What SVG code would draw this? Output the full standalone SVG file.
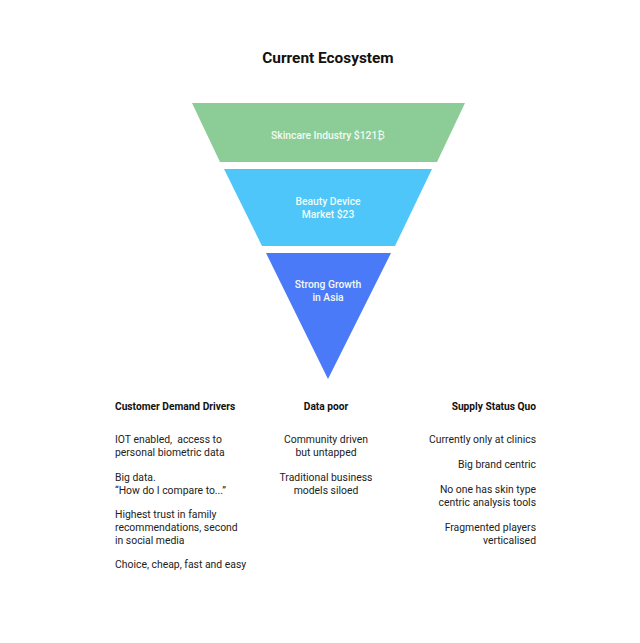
<svg xmlns="http://www.w3.org/2000/svg" width="640" height="643" viewBox="0 0 640 643">
<style>
text{font-family:Roboto,"Liberation Sans",sans-serif}
.t{font-size:15.4px;font-weight:bold;fill:#111;text-anchor:middle}
.in{font-size:10.3px;font-weight:500;fill:#f2fbf4;text-anchor:middle}
.h{font-size:10.2px;font-weight:bold;fill:#111}
.b{font-size:10.4px;fill:#222;white-space:pre}
.m{text-anchor:middle}
.r{text-anchor:end}
</style>
<rect width="640" height="643" fill="#fff"/>
<text class="t" x="328" y="63">Current Ecosystem</text>
<g id="skincare">
<polygon points="192,103 465,103 437,162 220,162" fill="#8ccc96"/>
<text class="in" x="328" y="139">Skincare Industry $121₿</text>
</g>
<g id="beauty-device">
<polygon points="224,169 432,169 395,246 262,246" fill="#4ec6fa"/>
<text class="in" x="328" y="205">Beauty Device</text>
<text class="in" x="328" y="218">Market $23</text>
</g>
<g id="asia">
<polygon points="266,253 391,253 328,379" fill="#4a7af8"/>
<text class="in" x="328" y="288">Strong Growth</text>
<text class="in" x="328" y="301">in Asia</text>
</g>
<g id="demand">
<text class="h" x="115" y="410">Customer Demand Drivers</text>
<text class="b" x="115" y="443" xml:space="preserve">IOT enabled,  access to</text>
<text class="b" x="115" y="456">personal biometric data</text>
<text class="b" x="115" y="481">Big data.</text>
<text class="b" x="115" y="494">“How do I compare to...”</text>
<text class="b" x="115" y="518">Highest trust in family</text>
<text class="b" x="115" y="531">recommendations, second</text>
<text class="b" x="115" y="544">in social media</text>
<text class="b" x="115" y="568">Choice, cheap, fast and easy</text>
</g>
<g id="data-poor">
<text class="h m" x="326" y="410">Data poor</text>
<text class="b m" x="326" y="443">Community driven</text>
<text class="b m" x="326" y="456">but untapped</text>
<text class="b m" x="326" y="481">Traditional business</text>
<text class="b m" x="326" y="494">models siloed</text>
</g>
<g id="supply">
<text class="h r" x="536" y="410">Supply Status Quo</text>
<text class="b r" x="536" y="443">Currently only at clinics</text>
<text class="b r" x="536" y="468">Big brand centric</text>
<text class="b r" x="536" y="493">No one has skin type</text>
<text class="b r" x="536" y="506">centric analysis tools</text>
<text class="b r" x="536" y="531">Fragmented players</text>
<text class="b r" x="536" y="544">verticalised</text>
</g>
</svg>
